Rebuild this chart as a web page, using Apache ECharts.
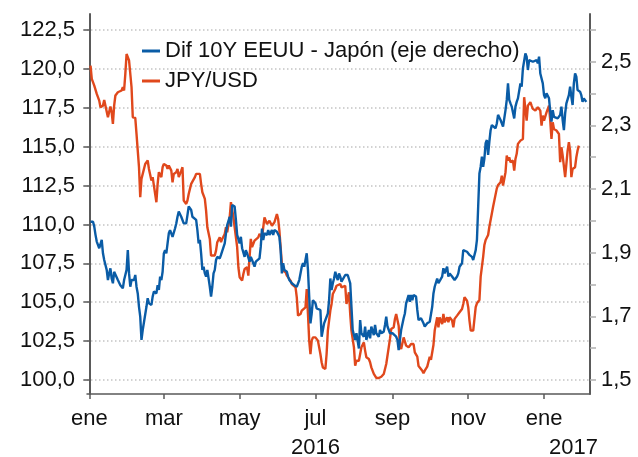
<!DOCTYPE html>
<html>
<head>
<meta charset="utf-8">
<script src="https://cdn.jsdelivr.net/npm/echarts@6/dist/echarts.min.js"></script>
<style>
    html, body { margin: 0; padding: 0; background: #fff; }
    #chart { width: 638px; height: 457px; }
</style>
</head>
<body>
<div id="chart"></div>
<script>
// dias contados desde el 1 de enero de 2016
const mesesTicks = [0, 60, 121, 182, 244, 305, 366];
const mesesEtiquetas = ["ene", "mar", "may", "jul", "sep", "nov", "ene"];

const ticksIzq = [100, 102.5, 105, 107.5, 110, 112.5, 115, 117.5, 120, 122.5];
const ticksDer = [1.5, 1.6, 1.7, 1.8, 1.9, 2.0, 2.1, 2.2, 2.3, 2.4, 2.5, 2.6];
const etiquetasDer = [1.5, 1.7, 1.9, 2.1, 2.3, 2.5];

const nombreDif = "Dif 10Y EEUU - Japón (eje derecho)";
const nombreJpy = "JPY/USD";

// [dia, valor]
const jpyUsd = [
    [1,120.21],[2,119.36],[4,118.93],[6,118.39],[8,117.96],[9,117.54],[11,117.64],[12,118.0],[13,117.92],[15,116.89],
    [16,116.79],[17,117.58],[18,117.21],[19,116.46],[20,117.64],[21,118.29],[23,118.5],[24,118.61],[26,118.61],[27,118.82],
    [28,118.61],[29,119.68],[30,120.96],[31,121.07],[32,120.54],[34,118.82],[35,116.89],[37,116.85],[38,115.82],[39,114.75],
    [40,113.68],[41,111.75],[42,112.93],[43,113.04],[45,113.89],[47,114.11],[48,113.57],[50,112.82],[51,113.04],[52,112.5],
    [54,111.43],[55,112.61],[56,113.36],[58,113.04],[59,113.68],[60,113.89],[62,113.79],[63,113.57],[64,113.79],[66,113.46],
    [67,112.71],[68,113.25],[70,113.36],[71,113.57],[72,113.04],[74,113.46],[75,113.68],[76,111.54],[78,111.32],[79,111.54],
    [80,111.96],[82,112.61],[83,112.71],[85,113.04],[86,113.25],[87,113.36],[89,113.25],[90,112.61],[91,112.07],[93,111.64],
    [94,110.89],[95,109.82],[97,109.07],[98,108.0],[99,108.11],[101,108.0],[102,108.32],[103,108.86],[105,109.18],[106,108.86],
    [107,109.07],[109,109.39],[110,109.82],[111,109.5],[113,110.46],[114,111.43],[115,111.32],[116,110.46],[117,109.82],[119,108.54],
    [120,107.25],[121,106.61],[123,106.39],[124,106.82],[125,107.14],[127,107.25],[128,106.71],[129,107.89],[130,109.07],[131,108.54],
    [133,108.96],[134,109.07],[136,109.17],[137,109.39],[139,109.17],[140,109.81],[141,110.46],[143,110.03],[144,110.14],[145,110.24],
    [147,109.92],[148,110.03],[149,110.14],[151,110.67],[152,110.35],[153,109.6],[154,108.53],[155,107.46],[156,107.03],[158,106.92],
    [159,106.71],[160,106.71],[162,106.39],[163,106.17],[164,106.06],[166,105.96],[167,105.31],[168,104.14],[170,104.24],[171,104.46],
    [172,104.56],[174,104.67],[175,105.85],[176,104.24],[177,102.53],[178,101.67],[179,102.53],[180,102.74],[182,102.74],[183,102.64],
    [184,102.53],[186,101.67],[187,101.14],[188,100.81],[190,100.71],[191,101.67],[192,103.17],[194,104.46],[195,104.89],[196,105.53],
    [198,105.85],[199,106.06],[200,106.06],[202,106.17],[203,105.96],[204,105.96],[206,106.06],[207,104.89],[209,105.64],[210,104.24],
    [211,103.17],[213,102.1],[214,100.92],[215,101.24],[217,101.24],[218,101.67],[219,102.1],[221,102.42],[222,101.89],[223,101.46],
    [225,101.35],[226,101.14],[227,100.81],[229,100.39],[230,100.28],[231,100.13],[233,100.13],[234,100.21],[235,100.21],[237,100.39],
    [238,100.49],[239,101.03],[241,102.1],[242,102.64],[243,103.28],[245,103.39],[246,103.92],[247,104.24],[249,103.49],[250,102.21],
    [251,101.99],[253,102.74],[254,102.85],[255,102.21],[257,102.1],[258,102.21],[259,102.31],[261,102.31],[262,101.78],[264,101.5],
    [265,100.9],[266,100.8],[268,100.6],[269,100.43],[270,100.6],[272,100.86],[274,101.5],[275,101.3],[277,102.25],[278,103.18],
    [280,104.03],[281,103.39],[282,104.03],[284,103.6],[285,104.25],[286,103.71],[288,104.03],[289,103.71],[290,104.03],[292,103.82],
    [293,103.39],[294,103.93],[296,104.14],[297,104.25],[298,104.36],[300,104.57],[301,104.89],[302,105.32],[304,105.1],[305,104.68],
    [306,103.82],[307,103.18],[308,103.07],[309,103.18],[311,104.68],[312,104.93],[314,105.14],[315,106.64],[317,107.92],[318,108.68],
    [319,109.0],[321,109.32],[322,109.85],[324,110.71],[325,111.14],[326,111.2],[328,112.32],[329,112.53],[331,112.71],[332,113.14],
    [333,112.5],[334,112.39],[335,113.36],[336,114.43],[337,114.11],[338,114.32],[339,114.0],[340,113.89],[341,114.11],[342,113.46],
    [343,114.21],[344,114.54],[345,115.18],[347,115.39],[348,115.29],[349,115.5],[350,118.18],[351,118.07],[352,116.68],[353,117.64],
    [355,117.86],[356,117.64],[357,117.43],[359,117.32],[360,117.21],[361,117.54],[362,117.64],[363,117.32],[364,116.36],[365,117.0],
    [366,116.68],[367,116.57],[368,117.21],[370,117.64],[371,116.68],[372,115.5],[373,116.57],[374,116.14],[375,116.25],[376,116.04],
    [377,116.14],[378,115.82],[379,114.0],[380,114.96],[381,114.43],[382,114.32],[383,113.04],[384,113.89],[385,114.75],[386,115.29],
    [387,114.75],[388,113.04],[389,113.57],[390,113.57],[391,113.68],[392,114.32],[393,114.75],[394,115.07]
];

// [dia, valor]
const dif10y = [
    [1,1.997],[2,1.992],[3,1.997],[4,1.982],[5,1.956],[6,1.935],[7,1.940],[8,1.914],[9,1.908],[10,1.940],
    [11,1.898],[12,1.877],[13,1.872],[14,1.846],[15,1.814],[16,1.835],[17,1.851],[18,1.819],[19,1.804],[20,1.840],
    [21,1.840],[23,1.814],[24,1.809],[25,1.798],[26,1.804],[27,1.788],[28,1.814],[29,1.830],[30,1.846],[31,1.908],
    [32,1.835],[33,1.793],[34,1.814],[35,1.819],[36,1.814],[37,1.830],[38,1.793],[39,1.772],[40,1.730],[41,1.699],
    [42,1.626],[43,1.657],[44,1.657],[46,1.730],[47,1.757],[48,1.741],[50,1.736],[51,1.762],[52,1.778],[54,1.772],
    [55,1.798],[56,1.783],[57,1.825],[58,1.814],[59,1.840],[60,1.898],[61,1.908],[62,1.898],[63,1.929],[64,1.961],
    [65,1.971],[67,1.950],[68,1.945],[69,1.976],[70,1.992],[71,2.013],[72,2.029],[73,2.024],[74,2.013],[75,2.018],
    [76,1.992],[78,1.992],[79,2.018],[80,2.045],[81,2.050],[82,2.034],[83,2.013],[84,2.013],[86,2.003],[87,1.971],
    [88,1.929],[89,1.940],[90,1.898],[91,1.846],[92,1.856],[93,1.835],[94,1.825],[95,1.846],[97,1.793],[98,1.762],
    [99,1.793],[100,1.835],[101,1.846],[102,1.877],[103,1.887],[105,1.882],[106,1.893],[107,1.898],[109,1.929],[110,1.961],
    [111,1.987],[113,2.013],[114,1.982],[115,2.050],[117,2.045],[118,2.003],[119,1.956],[121,1.929],[122,1.950],[123,1.914],
    [125,1.887],[126,1.908],[127,1.898],[129,1.872],[130,1.887],[131,1.877],[133,1.856],[134,1.872],[135,1.867],[137,1.882],
    [138,1.919],[139,1.976],[140,1.940],[141,1.961],[143,1.956],[144,1.971],[145,1.956],[147,1.971],[148,1.956],[149,1.971],
    [151,1.966],[152,1.971],[153,1.950],[154,1.908],[155,1.835],[156,1.867],[157,1.846],[159,1.840],[160,1.825],[161,1.814],
    [163,1.804],[164,1.809],[165,1.798],[167,1.793],[168,1.793],[169,1.814],[171,1.856],[172,1.867],[173,1.856],[175,1.898],
    [176,1.846],[177,1.762],[178,1.678],[179,1.709],[180,1.751],[182,1.741],[183,1.725],[184,1.725],[186,1.720],[187,1.636],
    [188,1.657],[189,1.678],[190,1.683],[192,1.709],[193,1.751],[194,1.819],[195,1.783],[196,1.804],[197,1.819],[198,1.840],
    [199,1.825],[200,1.814],[201,1.835],[202,1.825],[203,1.809],[204,1.804],[206,1.830],[207,1.835],[208,1.830],[210,1.804],
    [211,1.730],[212,1.657],[213,1.652],[214,1.626],[215,1.647],[217,1.599],[218,1.688],[219,1.647],[221,1.636],[222,1.668],
    [223,1.626],[225,1.657],[226,1.631],[227,1.668],[229,1.641],[230,1.673],[231,1.647],[233,1.636],[234,1.657],[235,1.647],
    [237,1.652],[238,1.673],[239,1.699],[240,1.668],[242,1.647],[243,1.641],[244,1.647],[245,1.641],[247,1.636],[248,1.626],
    [249,1.594],[250,1.626],[251,1.657],[253,1.694],[254,1.709],[255,1.741],[257,1.767],[258,1.746],[259,1.767],[260,1.751],
    [261,1.767],[263,1.762],[264,1.720],[265,1.688],[266,1.683],[267,1.694],[269,1.678],[270,1.668],[272,1.678],[273,1.673],
    [274,1.683],[276,1.730],[277,1.772],[278,1.793],[280,1.819],[281,1.804],[282,1.809],[284,1.825],[285,1.851],[286,1.835],
    [288,1.856],[289,1.825],[290,1.835],[292,1.825],[293,1.830],[294,1.814],[296,1.825],[297,1.835],[298,1.856],[300,1.867],
    [301,1.908],[302,1.914],[304,1.903],[305,1.898],[306,1.893],[308,1.887],[309,1.877],[310,1.877],[311,1.908],[312,1.940],
    [313,2.045],[314,2.149],[315,2.170],[316,2.202],[317,2.170],[318,2.196],[319,2.244],[320,2.254],[321,2.207],[322,2.249],
    [323,2.285],[324,2.301],[325,2.306],[327,2.291],[328,2.306],[329,2.333],[331,2.317],[332,2.312],[333,2.296],[335,2.348],
    [336,2.380],[337,2.432],[338,2.380],[339,2.369],[340,2.359],[342,2.322],[343,2.359],[344,2.374],[345,2.385],[347,2.432],
    [348,2.422],[349,2.479],[351,2.526],[352,2.516],[353,2.474],[354,2.505],[355,2.505],[357,2.500],[358,2.495],[360,2.505],
    [361,2.495],[362,2.516],[363,2.463],[364,2.463],[365,2.432],[366,2.395],[367,2.385],[368,2.401],[369,2.401],[370,2.385],
    [371,2.343],[372,2.312],[373,2.348],[374,2.327],[375,2.322],[377,2.322],[378,2.327],[379,2.333],[380,2.359],[381,2.317],
    [382,2.285],[383,2.338],[384,2.369],[386,2.395],[387,2.422],[388,2.390],[389,2.364],[390,2.432],[391,2.463],[392,2.453],
    [393,2.411],[394,2.411],[395,2.406],[396,2.395],[397,2.374],[398,2.385],[399,2.380],[400,2.374]
];

const fuente = "'Liberation Sans', Arial, sans-serif";
const colorEje = "#5a5a5a";

function coma(v) {
    return v.toFixed(1).replace(".", ",");
}

const chart = echarts.init(document.getElementById("chart"), null, { renderer: "canvas" });

chart.setOption({
    animation: false,
    backgroundColor: "#fff",
    textStyle: { fontFamily: fuente },
    grid: { left: 87, right: 48, top: 14, bottom: 63 },
    legend: {
        data: [nombreDif, nombreJpy],
        orient: "vertical",
        left: 137,
        top: 35,
        icon: "rect",
        itemWidth: 18,
        itemHeight: 3,
        itemGap: 8,
        textStyle: { fontSize: 22, lineHeight: 22, color: "#111", fontFamily: fuente },
    },
    xAxis: {
        type: "value",
        min: -1.85,
        max: 403,
        axisLine: { show: true, onZero: false, lineStyle: { color: colorEje, width: 1.5 } },
        axisTick: { show: true, length: 5, customValues: mesesTicks, lineStyle: { color: colorEje, width: 1.5 } },
        axisLabel: {
            customValues: mesesTicks,
            margin: 14,
            fontSize: 22,
            color: "#111",
            formatter(v) {
                const i = mesesTicks.indexOf(v);
                return i >= 0 ? mesesEtiquetas[i] : "";
            },
        },
        splitLine: { show: false },
    },
    yAxis: [
        {
            type: "value",
            position: "left",
            min: 99.1,
            max: 123.53,
            axisLine: { show: true, lineStyle: { color: colorEje, width: 2 } },
            axisTick: { show: true, length: 6, customValues: ticksIzq, lineStyle: { color: colorEje, width: 1.5 } },
            axisLabel: { customValues: ticksIzq, margin: 12, fontSize: 22, color: "#111", formatter: coma },
            splitLine: { show: true, lineStyle: { color: "#c4c4c4", width: 1.5, type: [1.5, 2.5] } },
        },
        {
            type: "value",
            position: "right",
            min: 1.456,
            max: 2.65,
            axisLine: { show: true, lineStyle: { color: colorEje, width: 2 } },
            axisTick: { show: true, length: 6, customValues: ticksDer, lineStyle: { color: "#b0b0b0", width: 1.5 } },
            axisLabel: { customValues: etiquetasDer, margin: 11, fontSize: 22, color: "#111", formatter: coma },
            splitLine: { show: false },
        },
    ],
    series: [
        {
            name: nombreJpy,
            type: "line",
            yAxisIndex: 0,
            data: jpyUsd,
            showSymbol: false,
            color: "#e0481c",
            lineStyle: { width: 2.4, color: "#e0481c" },
        },
        {
            name: nombreDif,
            type: "line",
            yAxisIndex: 1,
            data: dif10y,
            showSymbol: false,
            color: "#0a5ca6",
            lineStyle: { width: 2.4, color: "#0a5ca6" },
        },
    ],
    graphic: [
        { type: "text", left: 291, top: 437, style: { text: "2016", fontSize: 22, fontFamily: fuente, fill: "#111" } },
        { type: "text", left: 549, top: 437, style: { text: "2017", fontSize: 22, fontFamily: fuente, fill: "#111" } },
    ],
});
</script>
</body>
</html>
